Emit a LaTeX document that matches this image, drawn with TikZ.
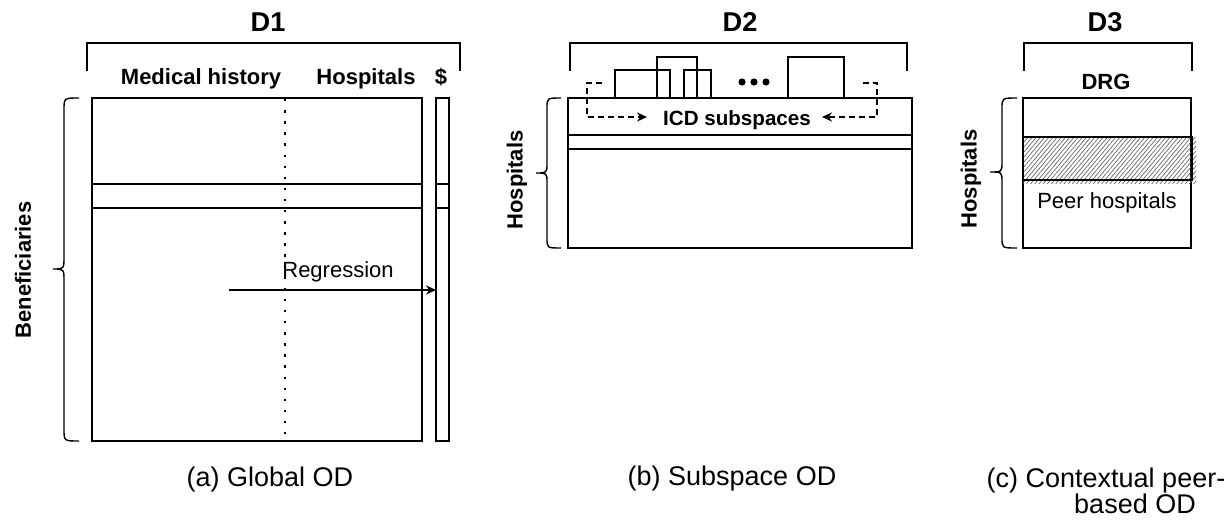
\documentclass[tikz,border=0pt]{standalone}
\usepackage{fontspec}
\setmainfont{Liberation Sans}
\usetikzlibrary{arrows.meta,patterns.meta}
\begin{document}
\begin{tikzpicture}[x=0.5pt,y=-0.5pt,line width=0.7pt,
  ttl/.style={font=\fontsize{13.6}{16}\selectfont\bfseries,inner sep=0,anchor=base},
  lbl/.style={font=\fontsize{11}{13}\selectfont\bfseries,inner sep=0,anchor=base},
  plaintxt/.style={font=\fontsize{11}{13}\selectfont,inner sep=0,anchor=base},
  captxt/.style={font=\fontsize{13.5}{16}\selectfont,inner sep=0,anchor=base},
  sidetxt/.style={font=\fontsize{11}{13}\selectfont\bfseries,inner sep=0,rotate=90},
  arr/.style={-{Stealth[length=5pt,width=4.6pt]}},
  dotline/.style={line width=1.2pt,dash pattern=on 1.2pt off 4.35pt},
  dashline/.style={line width=0.6pt,dash pattern=on 3pt off 2pt}]
\useasboundingbox (0,0) rectangle (1230,521);

% ---------------- panel (a) ----------------
\node[ttl] (d1) at (268,31) {D1};
\draw (87,71) -- (87,43) -- (460,43) -- (460,71);
\node[lbl] (mh) at (201,84) {Medical history};
\node[lbl] (hosp1) at (366,84) {Hospitals};
\node[lbl] (dollar) at (441,84) {\$};
\draw (92,98) rectangle (422,441);
\draw (92,184) -- (422,184);
\draw (92,208) -- (422,208);
\draw[dotline] (285,99) -- (285,441);
\draw (436,98) rectangle (449,441);
\draw (436,184) -- (449,184);
\draw (436,208) -- (449,208);
\node[inner sep=0,minimum width=6.5pt,minimum height=171.5pt,anchor=north west] (dcol) at (436,98) {};
\draw (79,98) .. controls (64,98) .. (64,110) -- (64,257) .. controls (64,269) .. (53,269)
      .. controls (64,269) .. (64,281) -- (64,429) .. controls (64,441) .. (79,441);
\node[sidetxt] (ben) at (23,270) {Beneficiaries};
\node[plaintxt] (reg) at (338,277) {Regression};
\coordinate (regstart) at (229,290);
\draw[arr] (regstart) -- (regstart -| dcol.west);
\node[captxt] (capa) at (270,486) {(a) Global OD};

% ---------------- panel (b) ----------------
\node[ttl] (d2) at (740,31) {D2};
\draw (570,71) -- (570,43) -- (907,43) -- (907,71);
\draw (568,98) rectangle (912,248);
\draw (568,135) -- (912,135);
\draw (568,149) -- (912,149);
\draw (615,98) -- (615,70) -- (670,70) -- (670,98);
\draw (657,98) -- (657,57) -- (697,57) -- (697,98);
\draw (684,98) -- (684,70) -- (711,70) -- (711,98);
\draw (788,98) -- (788,57) -- (844,57) -- (844,98);
\fill (742,82) circle[radius=3.6] (754,82) circle[radius=3.6] (766,82) circle[radius=3.6];
\node[lbl,font=\fontsize{10.3}{12}\selectfont\bfseries] (icd) at (737,125) {ICD subspaces};
\coordinate (ls) at (602,83);
\coordinate (rs) at (863,83);
\draw[dashline,arr] (ls) -- (587,83) -- (587,117) -- (647,117);
\draw[dashline,arr] (rs) -- (877,83) -- (877,117) -- (822,117);
\draw (561,98) .. controls (547,98) .. (547,108) -- (547,163) .. controls (547,173) .. (536,173)
      .. controls (547,173) .. (547,183) -- (547,238) .. controls (547,248) .. (561,248);
\node[sidetxt] (hosp2) at (517,180) {Hospitals};
\node[captxt] (capb) at (732,485) {(b) Subspace OD};

% ---------------- panel (c) ----------------
\node[ttl] (d3) at (1105,31) {D3};
\draw (1024,71) -- (1024,43) -- (1192,43) -- (1192,71);
\node[lbl] (drg) at (1106,89) {DRG};
\draw (1023,98) rectangle (1191,248);
\fill[pattern={Lines[angle=50,distance=1.6pt,line width=0.35pt]},pattern color=black!60]
  (1023,137) rectangle (1196,183);
\draw[line width=1.1pt] (1023,137) rectangle (1192,180);
\node[plaintxt] (peer) at (1107,208) {Peer hospitals};
\draw (1017,98) .. controls (1002,98) .. (1002,108) -- (1002,162) .. controls (1002,172) .. (990,172)
      .. controls (1002,172) .. (1002,182) -- (1002,238) .. controls (1002,248) .. (1017,248);
\node[sidetxt] (hosp3) at (971,179) {Hospitals};
\node[captxt] (capc1) at (1106,487) {(c) Contextual peer-};
\node[captxt] (capc2) at (1135,513) {based OD};
\end{tikzpicture}
\end{document}
